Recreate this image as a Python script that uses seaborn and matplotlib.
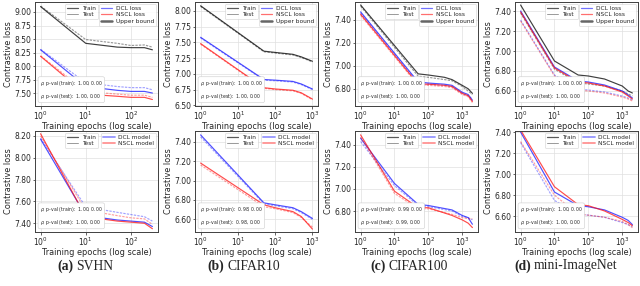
import numpy as np
import matplotlib
matplotlib.use("Agg")
import matplotlib.pyplot as plt
from matplotlib.lines import Line2D
from matplotlib.ticker import MultipleLocator, FormatStrFormatter
import seaborn as sns

# ---- data ----
datasets = ["SVHN", "CIFAR10", "CIFAR100", "mini-ImageNet"]
letters = ["(a)", "(b)", "(c)", "(d)"]

svhn_ep = [1, 10, 50, 100, 200, 300]
c10_ep = [1, 50, 100, 300, 500, 1000]
c100_ep = [1, 50, 100, 300, 500, 1000, 1500, 2000]
mini_ep = [1, 10, 50, 100, 300, 1000, 1500, 2000]
c100_ep_b = [1, 10, 50, 100, 500, 1000, 1500, 2000]

# top row: losses (DCL, NSCL, upper bound), train / test
svhn_ub_train = [9.10, 8.42, 8.35, 8.34, 8.34, 8.30]
svhn_ub_test = [9.11, 8.49, 8.42, 8.38, 8.39, 8.35]
svhn_dcl_train = [8.30, 7.62, 7.55, 7.53, 7.53, 7.50]
svhn_dcl_test = [8.31, 7.69, 7.62, 7.60, 7.60, 7.56]
svhn_nscl_train = [8.18, 7.48, 7.44, 7.42, 7.42, 7.38]
svhn_nscl_test = [8.19, 7.53, 7.48, 7.46, 7.46, 7.42]

c10_ub_train = [8.08, 7.36, 7.34, 7.31, 7.27, 7.20]
c10_ub_test = [8.07, 7.35, 7.33, 7.30, 7.26, 7.19]
c10_dcl_train = [7.58, 6.91, 6.90, 6.88, 6.84, 6.76]
c10_dcl_test = [7.57, 6.90, 6.89, 6.87, 6.83, 6.75]
c10_nscl_train = [7.48, 6.78, 6.76, 6.74, 6.70, 6.60]
c10_nscl_test = [7.47, 6.77, 6.75, 6.73, 6.69, 6.59]

c100_ub_train = [7.53, 6.93, 6.92, 6.90, 6.88, 6.83, 6.80, 6.76]
c100_ub_test = [7.52, 6.91, 6.90, 6.88, 6.87, 6.82, 6.78, 6.75]
c100_dcl_train = [7.47, 6.86, 6.85, 6.84, 6.83, 6.77, 6.75, 6.70]
c100_dcl_test = [7.46, 6.85, 6.84, 6.83, 6.82, 6.76, 6.74, 6.71]
c100_nscl_train = [7.45, 6.84, 6.84, 6.83, 6.82, 6.76, 6.74, 6.69]
c100_nscl_test = [7.44, 6.83, 6.83, 6.82, 6.81, 6.75, 6.73, 6.68]

mini_ub_train = [7.46, 6.90, 6.76, 6.75, 6.72, 6.65, 6.60, 6.58]
mini_ub_test = [7.38, 6.82, 6.68, 6.67, 6.65, 6.60, 6.57, 6.55]
mini_dcl_train = [7.40, 6.84, 6.70, 6.69, 6.66, 6.60, 6.56, 6.53]
mini_dcl_test = [7.31, 6.76, 6.62, 6.61, 6.59, 6.55, 6.53, 6.51]
mini_nscl_train = [7.39, 6.83, 6.69, 6.68, 6.65, 6.59, 6.55, 6.52]
mini_nscl_test = [7.30, 6.75, 6.61, 6.60, 6.58, 6.54, 6.52, 6.50]

# bottom row: DCL model vs NSCL model, train / test
svhn_dclm_train = [8.17, 7.47, 7.43, 7.42, 7.41, 7.37]
svhn_dclm_test = [8.18, 7.55, 7.50, 7.48, 7.46, 7.42]
svhn_nsclm_train = [8.22, 7.46, 7.42, 7.41, 7.40, 7.35]
svhn_nsclm_test = [8.20, 7.52, 7.47, 7.45, 7.44, 7.39]

c10_dclm_train = [7.47, 6.77, 6.75, 6.72, 6.68, 6.61]
c10_dclm_test = [7.45, 6.76, 6.74, 6.71, 6.67, 6.60]
c10_nsclm_train = [7.18, 6.75, 6.72, 6.68, 6.63, 6.50]
c10_nsclm_test = [7.16, 6.73, 6.71, 6.67, 6.62, 6.52]

c100_dclm_train = [7.46, 7.05, 6.86, 6.85, 6.81, 6.76, 6.74, 6.68]
c100_dclm_test = [7.43, 7.03, 6.85, 6.84, 6.80, 6.75, 6.74, 6.72]
c100_nsclm_train = [7.49, 6.98, 6.83, 6.83, 6.76, 6.72, 6.69, 6.65]
c100_nsclm_test = [7.47, 6.96, 6.82, 6.82, 6.77, 6.74, 6.73, 6.73]

mini_dclm_train = [7.40, 6.83, 6.70, 6.69, 6.66, 6.59, 6.56, 6.52]
mini_dclm_test = [7.30, 6.75, 6.62, 6.61, 6.59, 6.54, 6.52, 6.50]
mini_nsclm_train = [7.42, 6.88, 6.71, 6.70, 6.65, 6.57, 6.54, 6.51]
mini_nsclm_test = [7.31, 6.80, 6.62, 6.61, 6.59, 6.55, 6.52, 6.49]

rho_train = ["1.00, 0.00", "1.00, 0.00", "1.00, 0.00", "1.00, 0.00"]
rho_test = ["1.00, 0.00", "1.00, 0.00", "1.00, 0.00", "1.00, 0.00"]
rho_train_b = ["1.00, 0.00", "0.98, 0.00", "0.99, 0.00", "1.00, 0.00"]
rho_test_b = ["1.00, 0.00", "0.98, 0.00", "0.99, 0.00", "1.00, 0.00"]

K, B, R = "#000000", "#1515ff", "#ff1010"

top = [
    (svhn_ep, [(K, svhn_ub_train, svhn_ub_test), (B, svhn_dcl_train, svhn_dcl_test), (R, svhn_nscl_train, svhn_nscl_test)]),
    (c10_ep, [(K, c10_ub_train, c10_ub_test), (B, c10_dcl_train, c10_dcl_test), (R, c10_nscl_train, c10_nscl_test)]),
    (c100_ep, [(K, c100_ub_train, c100_ub_test), (B, c100_dcl_train, c100_dcl_test), (R, c100_nscl_train, c100_nscl_test)]),
    (mini_ep, [(K, mini_ub_train, mini_ub_test), (B, mini_dcl_train, mini_dcl_test), (R, mini_nscl_train, mini_nscl_test)]),
]
bottom = [
    (svhn_ep, [(B, svhn_dclm_train, svhn_dclm_test), (R, svhn_nsclm_train, svhn_nsclm_test)]),
    (c10_ep, [(B, c10_dclm_train, c10_dclm_test), (R, c10_nsclm_train, c10_nsclm_test)]),
    (c100_ep_b, [(B, c100_dclm_train, c100_dclm_test), (R, c100_nsclm_train, c100_nsclm_test)]),
    (mini_ep, [(B, mini_dclm_train, mini_dclm_test), (R, mini_nsclm_train, mini_nsclm_test)]),
]

top_ylim = [(7.26, 9.185), (6.49, 8.14), (6.65, 7.556), (6.45, 7.49)]
top_step = [0.25, 0.25, 0.2, 0.2]
bot_ylim = [(7.32, 8.245), (6.47, 7.51), (6.61, 7.525), (6.45, 7.41)]
bot_step = [0.2, 0.2, 0.2, 0.2]

sns.set_theme(style="whitegrid")
plt.rcParams.update({
    "axes.edgecolor": "0.25",
    "axes.linewidth": 0.7,
    "grid.color": "0.88",
    "grid.linewidth": 0.5,
    "xtick.bottom": True,
    "ytick.left": True,
    "xtick.major.size": 1.8,
    "ytick.major.size": 1.8,
    "xtick.major.width": 0.5,
    "ytick.major.width": 0.5,
    "xtick.minor.size": 0,
    "ytick.minor.size": 0,
})
plt.rcParams["font.family"] = ["DejaVu Sans"]

fig = plt.figure(figsize=(6.4, 2.86), dpi=100)
W, H = 640.0, 286.0
lefts = [35, 195, 355, 515]
width = 123


def draw(ax, ep, groups, ylim, step, rtr, rte, kind):
    for c, tr, te in groups:
        sns.lineplot(x=ep, y=tr, ax=ax, color=c, lw=0.85, alpha=0.75, legend=False)
        sns.lineplot(x=ep, y=te, ax=ax, color=c, lw=0.85, alpha=0.4,
                     linestyle=(0, (2, 1)), legend=False)
    ax.set_xscale("log")
    ax.set_ylim(*ylim)
    ax.yaxis.set_major_locator(MultipleLocator(step))
    ax.yaxis.set_major_formatter(FormatStrFormatter("%.2f"))
    ax.tick_params(labelsize=5.5, pad=1.0)
    ax.set_xlabel("Training epochs (log scale)", fontsize=5.9, labelpad=0.0)
    ax.set_ylabel("Contrastive loss", fontsize=5.9, labelpad=0.8)
    ax.text(0.04, 0.05, r"$\rho$, p-val (train):  " + rtr + "\n" + r"$\rho$, p-val (test):  " + rte,
            transform=ax.transAxes, fontsize=3.3, linespacing=1.7, va="bottom",
            bbox=dict(boxstyle="round,pad=0.4", fc="white", ec="0.8", lw=0.4))
    h1 = [Line2D([], [], color="0.35", lw=0.9), Line2D([], [], color="0.6", lw=0.7)]
    leg_kw = dict(fontsize=4.2, handlelength=2.0, borderpad=0.35, labelspacing=0.25,
                  handletextpad=0.6, framealpha=0.9, edgecolor="0.8", borderaxespad=0.3)
    leg1 = ax.legend(h1, ["Train", "Test"], loc="upper right", bbox_to_anchor=(0.525, 1.0), **leg_kw)
    leg1.get_frame().set_linewidth(0.4)
    ax.add_artist(leg1)
    if kind == "top":
        h2 = [Line2D([], [], color=B, lw=0.9, alpha=0.6),
              Line2D([], [], color=R, lw=0.9, alpha=0.6),
              Line2D([], [], color=K, lw=1.8, alpha=0.6)]
        lab = ["DCL loss", "NSCL loss", "Upper bound"]
    else:
        h2 = [Line2D([], [], color=B, lw=1.3, alpha=0.45),
              Line2D([], [], color=R, lw=1.3, alpha=0.45)]
        lab = ["DCL model", "NSCL model"]
    leg2 = ax.legend(h2, lab, loc="upper right", bbox_to_anchor=(1.0, 1.0), **leg_kw)
    leg2.get_frame().set_linewidth(0.4)


for i in range(4):
    ax = fig.add_axes([lefts[i] / W, (H - 106) / H, width / W, 104 / H])
    ep, groups = top[i]
    draw(ax, ep, groups, top_ylim[i], top_step[i], rho_train[i], rho_test[i], "top")

    ax = fig.add_axes([lefts[i] / W, (H - 232) / H, width / W, 101 / H])
    ep, groups = bottom[i]
    draw(ax, ep, groups, bot_ylim[i], bot_step[i], rho_train_b[i], rho_test_b[i], "bottom")

# captions: bold letter + plain name, centred as one piece
cap_x = [85, 244, 409, 566]
renderer = fig.canvas.get_renderer()
gap = 3.0
for i in range(4):
    t1 = fig.text(0, (H - 266) / H, letters[i], ha="left", va="center",
                  fontsize=9.8, fontweight="bold", family="Liberation Serif")
    t2 = fig.text(0, (H - 266) / H, datasets[i], ha="left", va="center",
                  fontsize=9.8, family="Liberation Serif")
    w1 = t1.get_window_extent(renderer).width
    w2 = t2.get_window_extent(renderer).width
    x0 = cap_x[i] - (w1 + gap + w2) / 2
    t1.set_x(x0 / W)
    t2.set_x((x0 + w1 + gap) / W)

fig.savefig("out.png", dpi=100)
